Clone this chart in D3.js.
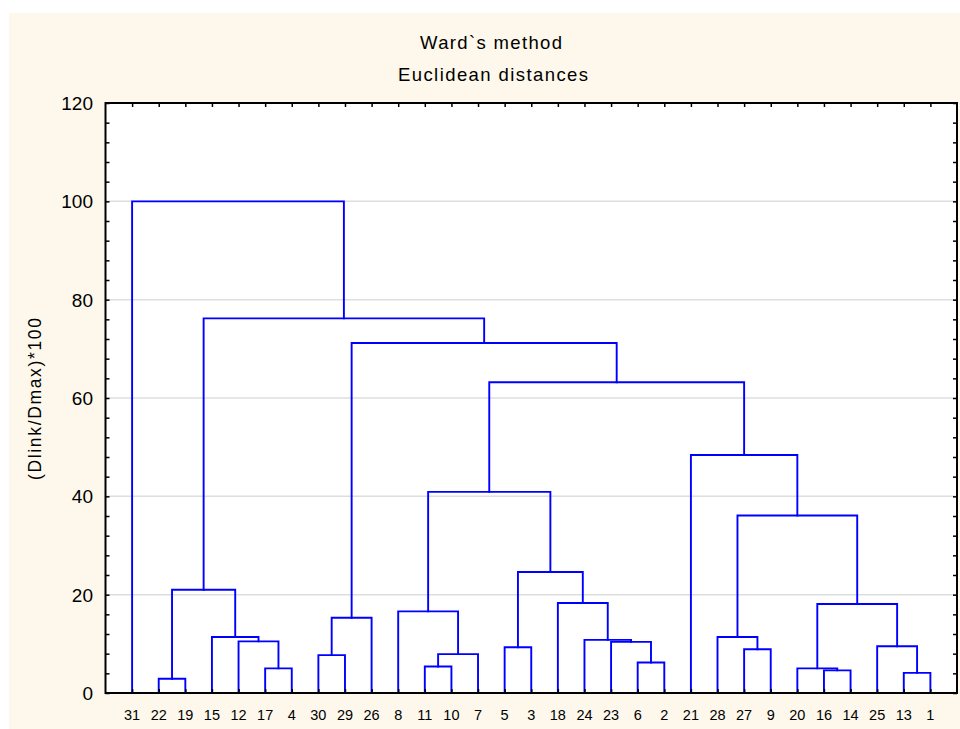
<!DOCTYPE html>
<html>
<head>
<meta charset="utf-8">
<script src="https://cdn.jsdelivr.net/npm/d3@7"></script>
<style>
  html, body { margin: 0; padding: 0; background: #ffffff; }
  svg { display: block; }
  text { font-family: "Liberation Sans", Arial, sans-serif; fill: #000; }
</style>
</head>
<body>
<svg id="chart" width="960" height="729"></svg>
<script>
// ---------------- DATA ----------------
const titleLines = ["Ward`s method", "Euclidean distances"];
const yAxisTitle = "(Dlink/Dmax)*100";
const leaves = ["31","22","19","15","12","17","4","30","29","26","8","11","10","7","5","3",
                "18","24","23","6","2","21","28","27","9","20","16","14","25","13","1"];
// merges: childA + childB joined at mergeHeight; "m#" refers to merge index, otherwise a leaf label
const mergeA = ["22","17","12","15","m0","30","m5","11","m7","8","5","6","23","24","18","m10",
                "m9","27","28","16","20","13","25","m20","m18","21","m16","m6","m4","31"];
const mergeB = ["19","4","m1","m2","m3","29","26","10","7","m8","3","2","m11","m12","m13","m14",
                "m15","9","m17","14","m19","1","m21","m22","m23","m24","m25","m26","m27","m28"];
const mergeHeight = [2.9, 5.0, 10.5, 11.4, 21.0, 7.7, 15.3, 5.4, 7.9, 16.6, 9.3, 6.2, 10.4, 10.8, 18.3, 24.6,
                     40.9, 8.9, 11.4, 4.6, 5.0, 4.1, 9.5, 18.1, 36.1, 48.4, 63.2, 71.2, 76.2, 100];
const yTicksMajor = [0, 20, 40, 60, 80, 100, 120];
const yTicksMinor = d3.range(0, 121, 4);

// ---------------- LAYOUT ----------------
const svg = d3.select("#chart");
const plot = { left: 105.5, right: 957, top: 103, bottom: 693 };

svg.append("rect").attr("x", 9).attr("y", 13).attr("width", 951).attr("height", 716)
   .attr("fill", "#fdf8eb");
svg.append("rect").attr("x", plot.left).attr("y", plot.top)
   .attr("width", plot.right - plot.left).attr("height", plot.bottom - plot.top)
   .attr("fill", "#ffffff");

const x = d3.scalePoint().domain(leaves).range([plot.left, plot.right]).padding(1);
const y = d3.scaleLinear().domain([0, 120]).range([plot.bottom, plot.top]);

// gridlines
svg.append("g").selectAll("line").data(yTicksMajor.filter(v => v > 0 && v < 120)).join("line")
  .attr("x1", plot.left).attr("x2", plot.right)
  .attr("y1", d => y(d)).attr("y2", d => y(d))
  .attr("stroke", "#dedede").attr("stroke-width", 1.5);

// dendrogram
const nodes = {};
leaves.forEach(l => nodes[l] = { x: x(l), h: 0 });
function getNode(ref) { return ref.startsWith("m") ? nodes["#" + ref.slice(1)] : nodes[ref]; }
const links = [];
mergeHeight.forEach((h, i) => {
  const a = getNode(mergeA[i]), b = getNode(mergeB[i]);
  links.push({ a, b, h });
  nodes["#" + i] = { x: (a.x + b.x) / 2, h };
});
svg.append("g").selectAll("path").data(links).join("path")
  .attr("d", d => `M${d.a.x},${y(d.a.h)}V${y(d.h)}H${d.b.x}V${y(d.b.h)}`)
  .attr("fill", "none").attr("stroke", "#0000ff").attr("stroke-width", 1.9)
  .attr("stroke-linejoin", "miter").attr("stroke-linecap", "square");

// axes (frame with inward ticks)
const axisColor = "#000";
const axLeft = svg.append("g").attr("transform", `translate(${plot.left},0)`)
  .call(d3.axisRight(y).tickValues(yTicksMinor).tickSize(4).tickFormat(""));
const axRight = svg.append("g").attr("transform", `translate(${plot.right},0)`)
  .call(d3.axisLeft(y).tickValues(yTicksMinor).tickSize(4).tickFormat(""));
const axTop = svg.append("g").attr("transform", `translate(0,${plot.top})`)
  .call(d3.axisBottom(x).tickSize(4).tickFormat(""));
const axBottom = svg.append("g").attr("transform", `translate(0,${plot.bottom})`)
  .call(d3.axisTop(x).tickSize(4).tickFormat(""));
[axLeft, axRight, axTop, axBottom].forEach(g => {
  g.select(".domain").remove();
  g.selectAll("line").attr("stroke", axisColor).attr("stroke-width", 1.5);
});
svg.append("rect").attr("x", plot.left).attr("y", plot.top)
   .attr("width", plot.right - plot.left).attr("height", plot.bottom - plot.top)
   .attr("fill", "none").attr("stroke", axisColor).attr("stroke-width", 2);

// y tick labels
svg.append("g").selectAll("text").data(yTicksMajor).join("text")
  .attr("x", 93).attr("y", d => y(d)).attr("dy", "0.36em")
  .attr("text-anchor", "end").attr("font-size", 19)
  .text(d => d);

// x tick labels
svg.append("g").selectAll("text").data(leaves).join("text")
  .attr("x", d => x(d)).attr("y", 720)
  .attr("text-anchor", "middle").attr("font-size", 14.5)
  .text(d => d);

// titles
svg.append("text").attr("x", 491).attr("y", 49).attr("text-anchor", "middle")
  .attr("font-size", 18.5).attr("textLength", 142).attr("lengthAdjust", "spacing").text(titleLines[0]);
svg.append("text").attr("x", 493).attr("y", 81).attr("text-anchor", "middle")
  .attr("font-size", 18.5).attr("textLength", 190).attr("lengthAdjust", "spacing").text(titleLines[1]);

// y axis title
svg.append("text").attr("transform", `translate(41,399) rotate(-90)`)
  .attr("text-anchor", "middle").attr("font-size", 17.5)
  .attr("textLength", 162).attr("lengthAdjust", "spacing").text(yAxisTitle);
</script>
</body>
</html>
